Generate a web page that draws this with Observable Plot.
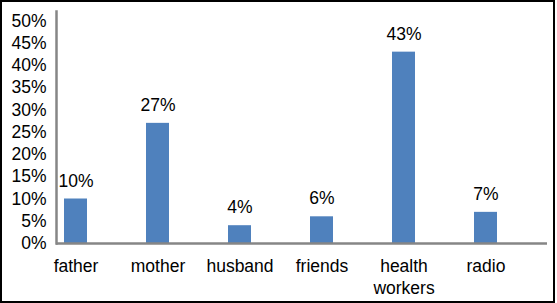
<!DOCTYPE html>
<html>
<head>
<meta charset="utf-8">
<script src="https://cdn.jsdelivr.net/npm/d3@7"></script>
<script src="https://cdn.jsdelivr.net/npm/@observablehq/plot@0.6"></script>
<style>
  html, body { margin: 0; padding: 0; background: #fff; }
  #wrap { position: relative; width: 557px; height: 303px; }
  #border { position: absolute; left: 0; top: 0; width: 555px; height: 303px; box-sizing: border-box; border: 2px solid #000; pointer-events: none; }
</style>
</head>
<body>
<div id="wrap"><div id="chart"></div><div id="border"></div></div>
<script>
const categories = ["father", "mother", "husband", "friends", "health workers", "radio"];
const values = [10, 27, 4, 6, 43, 7];
const yTicks = [0, 5, 10, 15, 20, 25, 30, 35, 40, 45, 50];

const data = categories.map((c, i) => ({category: c, value: values[i]}));
const font = "Liberation Sans, Arial, sans-serif";

const chart = Plot.plot({
  width: 557,
  height: 303,
  marginLeft: 56,
  marginRight: 10,
  marginTop: 11,
  marginBottom: 60,
  style: {fontFamily: font, fontSize: "17.5px", color: "#000", background: "transparent"},
  x: {domain: categories, range: [34.5, 526.5], paddingInner: 0.72, paddingOuter: 0.36, align: 0.5, label: null},
  y: {domain: [0, 50], range: [243, 20.5], label: null},
  marks: [
    Plot.barY(data, {x: "category", y: "value", fill: "#4F81BD"}),
    Plot.frame({anchor: "left", stroke: "#868686", strokeWidth: 2.5, strokeOpacity: 1}),
    Plot.ruleY([0], {stroke: "#868686", strokeWidth: 2.5}),
    Plot.axisY({ticks: yTicks, tickSize: 0, tickPadding: 10, tickFormat: d => d + "%", fontSize: "17.5px", label: null}),
    Plot.axisX({tickSize: 0, tickPadding: 13, tickFormat: d => d.replace(" ", "\n"), lineHeight: 1.26, fontSize: "17.5px", label: null}),
    Plot.text(data, {x: "category", y: "value", text: d => d.value + "%", dy: -18, fontSize: "17.5px", fill: "#000"})
  ]
});
document.getElementById("chart").appendChild(chart);
</script>
</body>
</html>
